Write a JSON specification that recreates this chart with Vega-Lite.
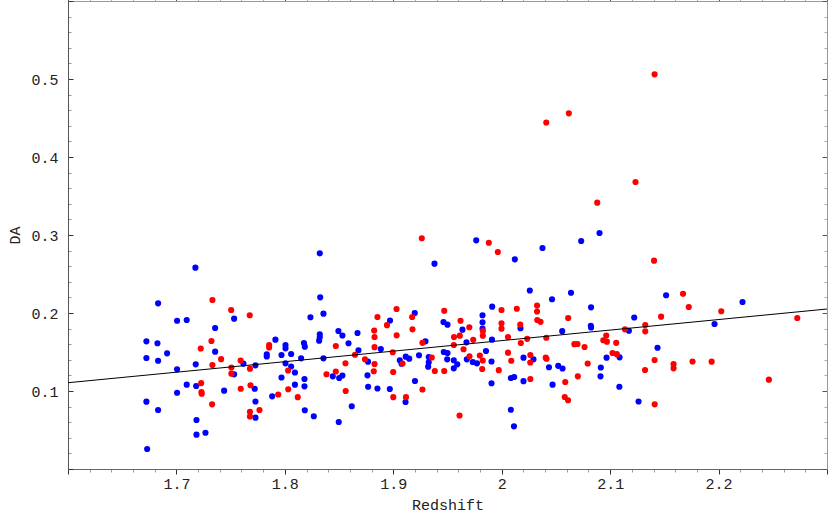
{
  "$schema": "https://vega.github.io/schema/vega-lite/v6.json",
  "width": 759,
  "height": 468,
  "autosize": {"type": "none"},
  "padding": {"left": 68, "top": 1, "right": 3, "bottom": 44},
  "background": "white",
  "config": {
    "view": {"stroke": null},
    "axis": {"grid": false, "labelFont": "Liberation Mono, Courier New, Courier, monospace", "titleFont": "Liberation Mono, Courier New, Courier, monospace", "labelColor": "#222", "titleColor": "#222", "labelFontSize": 15, "titleFontSize": 15, "titleFontWeight": "normal", "domainWidth": 1}
  },
  "datasets": {
    "pts": [
      {"Redshift":1.7175,"DA":0.2581,"group":"blue"},{"Redshift":1.6831,"DA":0.2124,"group":"blue"},{"Redshift":1.6723,"DA":0.1637,"group":"blue"},{"Redshift":1.6825,"DA":0.1612,"group":"blue"},{"Redshift":1.6914,"DA":0.1483,"group":"blue"},{"Redshift":1.6723,"DA":0.1423,"group":"blue"},{"Redshift":1.6831,"DA":0.1388,"group":"blue"},{"Redshift":1.7006,"DA":0.1901,"group":"blue"},{"Redshift":1.7095,"DA":0.1910,"group":"blue"},{"Redshift":1.7006,"DA":0.1278,"group":"blue"},{"Redshift":1.7178,"DA":0.1342,"group":"blue"},{"Redshift":1.7357,"DA":0.1808,"group":"blue"},{"Redshift":1.7357,"DA":0.1504,"group":"blue"},{"Redshift":1.7532,"DA":0.1927,"group":"blue"},{"Redshift":1.7095,"DA":0.1081,"group":"blue"},{"Redshift":1.7182,"DA":0.1064,"group":"blue"},{"Redshift":1.7006,"DA":0.0978,"group":"blue"},{"Redshift":1.7440,"DA":0.1004,"group":"blue"},{"Redshift":1.7532,"DA":0.1214,"group":"blue"},{"Redshift":1.7618,"DA":0.1350,"group":"blue"},{"Redshift":1.7729,"DA":0.1329,"group":"blue"},{"Redshift":1.7722,"DA":0.1029,"group":"blue"},{"Redshift":1.7729,"DA":0.0865,"group":"blue"},{"Redshift":1.7729,"DA":0.0658,"group":"blue"},{"Redshift":1.6723,"DA":0.0863,"group":"blue"},{"Redshift":1.6831,"DA":0.0756,"group":"blue"},{"Redshift":1.7185,"DA":0.0628,"group":"blue"},{"Redshift":1.7185,"DA":0.0440,"group":"blue"},{"Redshift":1.7268,"DA":0.0465,"group":"blue"},{"Redshift":1.6730,"DA":0.0256,"group":"blue"},{"Redshift":1.7833,"DA":0.1471,"group":"blue"},{"Redshift":1.7833,"DA":0.1442,"group":"blue"},{"Redshift":1.7913,"DA":0.1658,"group":"blue"},{"Redshift":1.7883,"DA":0.0932,"group":"blue"},{"Redshift":1.7969,"DA":0.1173,"group":"blue"},{"Redshift":1.7969,"DA":0.1462,"group":"blue"},{"Redshift":1.8006,"DA":0.1590,"group":"blue"},{"Redshift":1.8006,"DA":0.1547,"group":"blue"},{"Redshift":1.8058,"DA":0.1474,"group":"blue"},{"Redshift":1.8006,"DA":0.1355,"group":"blue"},{"Redshift":1.8058,"DA":0.1314,"group":"blue"},{"Redshift":1.8093,"DA":0.1237,"group":"blue"},{"Redshift":1.8093,"DA":0.1081,"group":"blue"},{"Redshift":1.8150,"DA":0.1419,"group":"blue"},{"Redshift":1.8176,"DA":0.1615,"group":"blue"},{"Redshift":1.8184,"DA":0.1568,"group":"blue"},{"Redshift":1.8181,"DA":0.1154,"group":"blue"},{"Redshift":1.8181,"DA":0.1060,"group":"blue"},{"Redshift":1.8184,"DA":0.0753,"group":"blue"},{"Redshift":1.8267,"DA":0.0676,"group":"blue"},{"Redshift":1.8236,"DA":0.1945,"group":"blue"},{"Redshift":1.8322,"DA":0.2765,"group":"blue"},{"Redshift":1.8326,"DA":0.2201,"group":"blue"},{"Redshift":1.8356,"DA":0.1991,"group":"blue"},{"Redshift":1.8322,"DA":0.1727,"group":"blue"},{"Redshift":1.8322,"DA":0.1688,"group":"blue"},{"Redshift":1.8316,"DA":0.1645,"group":"blue"},{"Redshift":1.8356,"DA":0.1419,"group":"blue"},{"Redshift":1.8442,"DA":0.1188,"group":"blue"},{"Redshift":1.8501,"DA":0.1167,"group":"blue"},{"Redshift":1.8531,"DA":0.1199,"group":"blue"},{"Redshift":1.8494,"DA":0.1769,"group":"blue"},{"Redshift":1.8531,"DA":0.1712,"group":"blue"},{"Redshift":1.8670,"DA":0.1744,"group":"blue"},{"Redshift":1.8587,"DA":0.1612,"group":"blue"},{"Redshift":1.8679,"DA":0.1522,"group":"blue"},{"Redshift":1.8617,"DA":0.0804,"group":"blue"},{"Redshift":1.8497,"DA":0.0603,"group":"blue"},{"Redshift":1.8767,"DA":0.1376,"group":"blue"},{"Redshift":1.8762,"DA":0.1201,"group":"blue"},{"Redshift":1.8768,"DA":0.1055,"group":"blue"},{"Redshift":1.8854,"DA":0.1032,"group":"blue"},{"Redshift":1.8885,"DA":0.1538,"group":"blue"},{"Redshift":1.8970,"DA":0.1904,"group":"blue"},{"Redshift":1.8968,"DA":0.1026,"group":"blue"},{"Redshift":1.9060,"DA":0.1394,"group":"blue"},{"Redshift":1.9076,"DA":0.1350,"group":"blue"},{"Redshift":1.9115,"DA":0.1440,"group":"blue"},{"Redshift":1.9147,"DA":0.1414,"group":"blue"},{"Redshift":1.9113,"DA":0.0859,"group":"blue"},{"Redshift":1.9198,"DA":0.2000,"group":"blue"},{"Redshift":1.9200,"DA":0.1128,"group":"blue"},{"Redshift":1.9380,"DA":0.2632,"group":"blue"},{"Redshift":1.9765,"DA":0.2932,"group":"blue"},{"Redshift":2.0121,"DA":0.2688,"group":"blue"},{"Redshift":2.0376,"DA":0.2833,"group":"blue"},{"Redshift":2.0259,"DA":0.2288,"group":"blue"},{"Redshift":1.9912,"DA":0.2081,"group":"blue"},{"Redshift":1.9823,"DA":0.1971,"group":"blue"},{"Redshift":1.9823,"DA":0.1881,"group":"blue"},{"Redshift":1.9823,"DA":0.1799,"group":"blue"},{"Redshift":1.9463,"DA":0.1885,"group":"blue"},{"Redshift":1.9500,"DA":0.1850,"group":"blue"},{"Redshift":1.9638,"DA":0.1786,"group":"blue"},{"Redshift":2.0173,"DA":0.1804,"group":"blue"},{"Redshift":1.9297,"DA":0.1637,"group":"blue"},{"Redshift":1.9675,"DA":0.1624,"group":"blue"},{"Redshift":1.9910,"DA":0.1658,"group":"blue"},{"Redshift":1.9855,"DA":0.1513,"group":"blue"},{"Redshift":1.9237,"DA":0.1458,"group":"blue"},{"Redshift":1.9327,"DA":0.1436,"group":"blue"},{"Redshift":1.9327,"DA":0.1368,"group":"blue"},{"Redshift":1.9322,"DA":0.1312,"group":"blue"},{"Redshift":1.9466,"DA":0.1500,"group":"blue"},{"Redshift":1.9500,"DA":0.1487,"group":"blue"},{"Redshift":1.9497,"DA":0.1406,"group":"blue"},{"Redshift":1.9558,"DA":0.1394,"group":"blue"},{"Redshift":1.9590,"DA":0.1342,"group":"blue"},{"Redshift":1.9558,"DA":0.1291,"group":"blue"},{"Redshift":1.9678,"DA":0.1406,"group":"blue"},{"Redshift":1.9733,"DA":0.1372,"group":"blue"},{"Redshift":1.9772,"DA":0.1355,"group":"blue"},{"Redshift":1.9906,"DA":0.1378,"group":"blue"},{"Redshift":2.0201,"DA":0.1427,"group":"blue"},{"Redshift":2.0293,"DA":0.1406,"group":"blue"},{"Redshift":1.9906,"DA":0.1099,"group":"blue"},{"Redshift":2.0084,"DA":0.1167,"group":"blue"},{"Redshift":2.0115,"DA":0.1179,"group":"blue"},{"Redshift":2.0201,"DA":0.1126,"group":"blue"},{"Redshift":2.0084,"DA":0.0760,"group":"blue"},{"Redshift":2.0113,"DA":0.0547,"group":"blue"},{"Redshift":2.0733,"DA":0.2923,"group":"blue"},{"Redshift":2.0902,"DA":0.3026,"group":"blue"},{"Redshift":2.0639,"DA":0.2260,"group":"blue"},{"Redshift":2.0464,"DA":0.2176,"group":"blue"},{"Redshift":2.0824,"DA":0.2073,"group":"blue"},{"Redshift":2.1516,"DA":0.2228,"group":"blue"},{"Redshift":2.1222,"DA":0.1942,"group":"blue"},{"Redshift":2.0558,"DA":0.1767,"group":"blue"},{"Redshift":2.0822,"DA":0.1837,"group":"blue"},{"Redshift":2.0824,"DA":0.1814,"group":"blue"},{"Redshift":2.1173,"DA":0.1772,"group":"blue"},{"Redshift":2.1437,"DA":0.1555,"group":"blue"},{"Redshift":2.0967,"DA":0.1427,"group":"blue"},{"Redshift":2.1087,"DA":0.1432,"group":"blue"},{"Redshift":2.0436,"DA":0.1304,"group":"blue"},{"Redshift":2.0521,"DA":0.1323,"group":"blue"},{"Redshift":2.0561,"DA":0.1288,"group":"blue"},{"Redshift":2.0914,"DA":0.1301,"group":"blue"},{"Redshift":2.0911,"DA":0.1188,"group":"blue"},{"Redshift":2.0469,"DA":0.1081,"group":"blue"},{"Redshift":2.1085,"DA":0.1055,"group":"blue"},{"Redshift":2.1262,"DA":0.0865,"group":"blue"},{"Redshift":2.2221,"DA":0.2141,"group":"blue"},{"Redshift":2.1963,"DA":0.1859,"group":"blue"},
      {"Redshift":1.7332,"DA":0.2167,"group":"red"},{"Redshift":1.7505,"DA":0.2038,"group":"red"},{"Redshift":1.7676,"DA":0.1971,"group":"red"},{"Redshift":1.7224,"DA":0.1545,"group":"red"},{"Redshift":1.7323,"DA":0.1641,"group":"red"},{"Redshift":1.7332,"DA":0.1333,"group":"red"},{"Redshift":1.7412,"DA":0.1408,"group":"red"},{"Redshift":1.7507,"DA":0.1301,"group":"red"},{"Redshift":1.7507,"DA":0.1222,"group":"red"},{"Redshift":1.7592,"DA":0.1391,"group":"red"},{"Redshift":1.7678,"DA":0.1286,"group":"red"},{"Redshift":1.7228,"DA":0.1100,"group":"red"},{"Redshift":1.7231,"DA":0.0987,"group":"red"},{"Redshift":1.7233,"DA":0.0965,"group":"red"},{"Redshift":1.7329,"DA":0.0829,"group":"red"},{"Redshift":1.7593,"DA":0.1029,"group":"red"},{"Redshift":1.7683,"DA":0.1074,"group":"red"},{"Redshift":1.7678,"DA":0.0733,"group":"red"},{"Redshift":1.7678,"DA":0.0673,"group":"red"},{"Redshift":1.7766,"DA":0.0756,"group":"red"},{"Redshift":1.7855,"DA":0.1590,"group":"red"},{"Redshift":1.7855,"DA":0.1558,"group":"red"},{"Redshift":1.7939,"DA":0.0955,"group":"red"},{"Redshift":1.8030,"DA":0.1263,"group":"red"},{"Redshift":1.8031,"DA":0.1022,"group":"red"},{"Redshift":1.8119,"DA":0.0921,"group":"red"},{"Redshift":1.9030,"DA":0.2051,"group":"red"},{"Redshift":1.8854,"DA":0.1949,"group":"red"},{"Redshift":1.8942,"DA":0.1844,"group":"red"},{"Redshift":1.9174,"DA":0.1949,"group":"red"},{"Redshift":1.9177,"DA":0.1791,"group":"red"},{"Redshift":1.8824,"DA":0.1776,"group":"red"},{"Redshift":1.8827,"DA":0.1692,"group":"red"},{"Redshift":1.9031,"DA":0.1714,"group":"red"},{"Redshift":1.8470,"DA":0.1577,"group":"red"},{"Redshift":1.8827,"DA":0.1562,"group":"red"},{"Redshift":1.8647,"DA":0.1465,"group":"red"},{"Redshift":1.8739,"DA":0.1406,"group":"red"},{"Redshift":1.8559,"DA":0.1356,"group":"red"},{"Redshift":1.8827,"DA":0.1346,"group":"red"},{"Redshift":1.8995,"DA":0.1497,"group":"red"},{"Redshift":1.9085,"DA":0.1353,"group":"red"},{"Redshift":1.8384,"DA":0.1215,"group":"red"},{"Redshift":1.8470,"DA":0.1250,"group":"red"},{"Redshift":1.8820,"DA":0.1253,"group":"red"},{"Redshift":1.8999,"DA":0.1244,"group":"red"},{"Redshift":1.8561,"DA":0.1000,"group":"red"},{"Redshift":1.9000,"DA":0.0921,"group":"red"},{"Redshift":1.9117,"DA":0.0921,"group":"red"},{"Redshift":1.9263,"DA":0.2958,"group":"red"},{"Redshift":1.9881,"DA":0.2901,"group":"red"},{"Redshift":1.9964,"DA":0.2782,"group":"red"},{"Redshift":1.9470,"DA":0.2029,"group":"red"},{"Redshift":1.9998,"DA":0.2038,"group":"red"},{"Redshift":2.0139,"DA":0.2055,"group":"red"},{"Redshift":2.0326,"DA":0.2095,"group":"red"},{"Redshift":2.0326,"DA":0.2019,"group":"red"},{"Redshift":2.0328,"DA":0.1910,"group":"red"},{"Redshift":2.0358,"DA":0.1887,"group":"red"},{"Redshift":1.9620,"DA":0.1901,"group":"red"},{"Redshift":1.9701,"DA":0.1817,"group":"red"},{"Redshift":1.9998,"DA":0.1868,"group":"red"},{"Redshift":1.9998,"DA":0.1799,"group":"red"},{"Redshift":2.0171,"DA":0.1850,"group":"red"},{"Redshift":1.9826,"DA":0.1769,"group":"red"},{"Redshift":1.9826,"DA":0.1709,"group":"red"},{"Redshift":1.9613,"DA":0.1709,"group":"red"},{"Redshift":1.9560,"DA":0.1692,"group":"red"},{"Redshift":1.9737,"DA":0.1656,"group":"red"},{"Redshift":2.0058,"DA":0.1692,"group":"red"},{"Redshift":2.0235,"DA":0.1669,"group":"red"},{"Redshift":1.9269,"DA":0.1618,"group":"red"},{"Redshift":1.9558,"DA":0.1590,"group":"red"},{"Redshift":1.9648,"DA":0.1535,"group":"red"},{"Redshift":2.0176,"DA":0.1615,"group":"red"},{"Redshift":2.0058,"DA":0.1491,"group":"red"},{"Redshift":1.9355,"DA":0.1429,"group":"red"},{"Redshift":1.9703,"DA":0.1445,"group":"red"},{"Redshift":1.9798,"DA":0.1455,"group":"red"},{"Redshift":1.9825,"DA":0.1391,"group":"red"},{"Redshift":2.0088,"DA":0.1388,"group":"red"},{"Redshift":2.0264,"DA":0.1462,"group":"red"},{"Redshift":2.0263,"DA":0.1365,"group":"red"},{"Redshift":1.9383,"DA":0.1256,"group":"red"},{"Redshift":1.9470,"DA":0.1256,"group":"red"},{"Redshift":1.9820,"DA":0.1282,"group":"red"},{"Redshift":1.9973,"DA":0.1267,"group":"red"},{"Redshift":2.0264,"DA":0.1154,"group":"red"},{"Redshift":1.9269,"DA":0.1019,"group":"red"},{"Redshift":1.9611,"DA":0.0686,"group":"red"},{"Redshift":2.0881,"DA":0.3414,"group":"red"},{"Redshift":2.1405,"DA":0.2671,"group":"red"},{"Redshift":2.1410,"DA":0.5060,"group":"red"},{"Redshift":2.0619,"DA":0.4560,"group":"red"},{"Redshift":2.0411,"DA":0.4442,"group":"red"},{"Redshift":2.1234,"DA":0.3679,"group":"red"},{"Redshift":2.0613,"DA":0.1936,"group":"red"},{"Redshift":2.1470,"DA":0.1953,"group":"red"},{"Redshift":2.1324,"DA":0.1846,"group":"red"},{"Redshift":2.1324,"DA":0.1765,"group":"red"},{"Redshift":2.1137,"DA":0.1791,"group":"red"},{"Redshift":2.0964,"DA":0.1712,"group":"red"},{"Redshift":2.0937,"DA":0.1651,"group":"red"},{"Redshift":2.0970,"DA":0.1632,"group":"red"},{"Redshift":2.0411,"DA":0.1683,"group":"red"},{"Redshift":2.0670,"DA":0.1600,"group":"red"},{"Redshift":2.0699,"DA":0.1603,"group":"red"},{"Redshift":2.0764,"DA":0.1564,"group":"red"},{"Redshift":2.1056,"DA":0.1618,"group":"red"},{"Redshift":2.1022,"DA":0.1487,"group":"red"},{"Redshift":2.1062,"DA":0.1472,"group":"red"},{"Redshift":2.0406,"DA":0.1427,"group":"red"},{"Redshift":2.0413,"DA":0.1413,"group":"red"},{"Redshift":2.0793,"DA":0.1353,"group":"red"},{"Redshift":2.1410,"DA":0.1397,"group":"red"},{"Redshift":2.1322,"DA":0.1269,"group":"red"},{"Redshift":2.0702,"DA":0.1188,"group":"red"},{"Redshift":2.0586,"DA":0.1115,"group":"red"},{"Redshift":2.0581,"DA":0.0923,"group":"red"},{"Redshift":2.0612,"DA":0.0881,"group":"red"},{"Redshift":2.1411,"DA":0.0829,"group":"red"},{"Redshift":2.1672,"DA":0.2247,"group":"red"},{"Redshift":2.1725,"DA":0.2077,"group":"red"},{"Redshift":2.2025,"DA":0.2022,"group":"red"},{"Redshift":2.1585,"DA":0.1344,"group":"red"},{"Redshift":2.1585,"DA":0.1291,"group":"red"},{"Redshift":2.1760,"DA":0.1378,"group":"red"},{"Redshift":2.1936,"DA":0.1376,"group":"red"},{"Redshift":2.2464,"DA":0.1145,"group":"red"},{"Redshift":2.2726,"DA":0.1936,"group":"red"}
    ],
    "fit": [
      {"Redshift": 1.6, "DA": 0.1106},
      {"Redshift": 2.3, "DA": 0.2051}
    ]
  },
  "layer": [
    {
      "data": {"name": "pts"},
      "mark": {"type": "circle", "size": 38, "opacity": 1},
      "encoding": {
        "x": {
          "field": "Redshift", "type": "quantitative",
          "scale": {"domain": [1.6, 2.3], "nice": false, "zero": false},
          "axis": {
            "orient": "bottom",
            "title": "Redshift",
            "values": [1.6,1.62,1.64,1.66,1.68,1.7,1.72,1.74,1.76,1.78,1.8,1.82,1.84,1.86,1.88,1.9,1.92,1.94,1.96,1.98,2,2.02,2.04,2.06,2.08,2.1,2.12,2.14,2.16,2.18,2.2,2.22,2.24,2.26,2.28,2.3],
            "tickSize": {"condition": {"test": "abs(datum.value*10 - round(datum.value*10)) < 0.01", "value": 5}, "value": 3},
            "tickColor": {"condition": {"test": "abs(datum.value*10 - round(datum.value*10)) < 0.01", "value": "#333"}, "value": "#999"},
            "labelExpr": "(abs(datum.value*10 - round(datum.value*10)) < 0.01 && datum.value > 1.65 && datum.value < 2.25) ? toString(round(datum.value*10)/10) : ''",
            "labelBaseline": "middle",
            "labelPadding": 9,
            "labelFlush": false,
            "labelOverlap": false,
            "domainColor": "#666",
            "titleY": 35,
            "titleBaseline": "middle"
          }
        },
        "y": {
          "field": "DA", "type": "quantitative",
          "scale": {"domain": [0, 0.6], "nice": false, "zero": false},
          "axis": {
            "orient": "left",
            "title": "DA",
            "values": [0,0.02,0.04,0.06,0.08,0.1,0.12,0.14,0.16,0.18,0.2,0.22,0.24,0.26,0.28,0.3,0.32,0.34,0.36,0.38,0.4,0.42,0.44,0.46,0.48,0.5,0.52,0.54,0.56,0.58,0.6],
            "tickSize": {"condition": {"test": "abs(datum.value*10 - round(datum.value*10)) < 0.01", "value": -5}, "value": -3},
            "tickColor": {"condition": {"test": "abs(datum.value*10 - round(datum.value*10)) < 0.01", "value": "#333"}, "value": "#999"},
            "labelExpr": "(abs(datum.value*10 - round(datum.value*10)) < 0.01 && datum.value > 0.05 && datum.value < 0.55) ? toString(round(datum.value*10)/10) : ''",
            "labelBaseline": "middle",
            "labelAlign": "right",
            "labelPadding": 15,
            "labelFlush": false,
            "labelOverlap": false,
            "domainColor": "#555",
            "titleX": -54,
            "titleY": 234,
            "titleAngle": -90,
            "titleAlign": "center",
            "titleBaseline": "middle"
          }
        },
        "color": {
          "field": "group", "type": "nominal",
          "scale": {"domain": ["blue", "red"], "range": ["#0000ff", "#ff0000"]},
          "legend": null
        }
      }
    },
    {
      "data": {"name": "fit"},
      "mark": {"type": "line", "color": "#000000", "strokeWidth": 1},
      "encoding": {
        "x": {
          "field": "Redshift", "type": "quantitative",
          "scale": {"domain": [1.6, 2.3], "nice": false, "zero": false},
          "axis": {
            "orient": "top",
            "title": null,
            "labels": false,
            "values": [1.6,1.62,1.64,1.66,1.68,1.7,1.72,1.74,1.76,1.78,1.8,1.82,1.84,1.86,1.88,1.9,1.92,1.94,1.96,1.98,2,2.02,2.04,2.06,2.08,2.1,2.12,2.14,2.16,2.18,2.2,2.22,2.24,2.26,2.28,2.3],
            "tickSize": {"condition": {"test": "abs(datum.value*10 - round(datum.value*10)) < 0.01", "value": 5}, "value": 3},
            "tickColor": {"condition": {"test": "abs(datum.value*10 - round(datum.value*10)) < 0.01", "value": "#555"}, "value": "#aaa"},
            "domainColor": "#999"
          }
        },
        "y": {
          "field": "DA", "type": "quantitative",
          "scale": {"domain": [0, 0.6], "nice": false, "zero": false},
          "axis": {
            "orient": "right",
            "title": null,
            "labels": false,
            "values": [0,0.02,0.04,0.06,0.08,0.1,0.12,0.14,0.16,0.18,0.2,0.22,0.24,0.26,0.28,0.3,0.32,0.34,0.36,0.38,0.4,0.42,0.44,0.46,0.48,0.5,0.52,0.54,0.56,0.58,0.6],
            "tickSize": {"condition": {"test": "abs(datum.value*10 - round(datum.value*10)) < 0.01", "value": -5}, "value": -3},
            "tickColor": {"condition": {"test": "abs(datum.value*10 - round(datum.value*10)) < 0.01", "value": "#555"}, "value": "#aaa"},
            "domainColor": "#999"
          }
        }
      }
    }
  ],
  "resolve": {"axis": {"x": "independent", "y": "independent"}}
}
